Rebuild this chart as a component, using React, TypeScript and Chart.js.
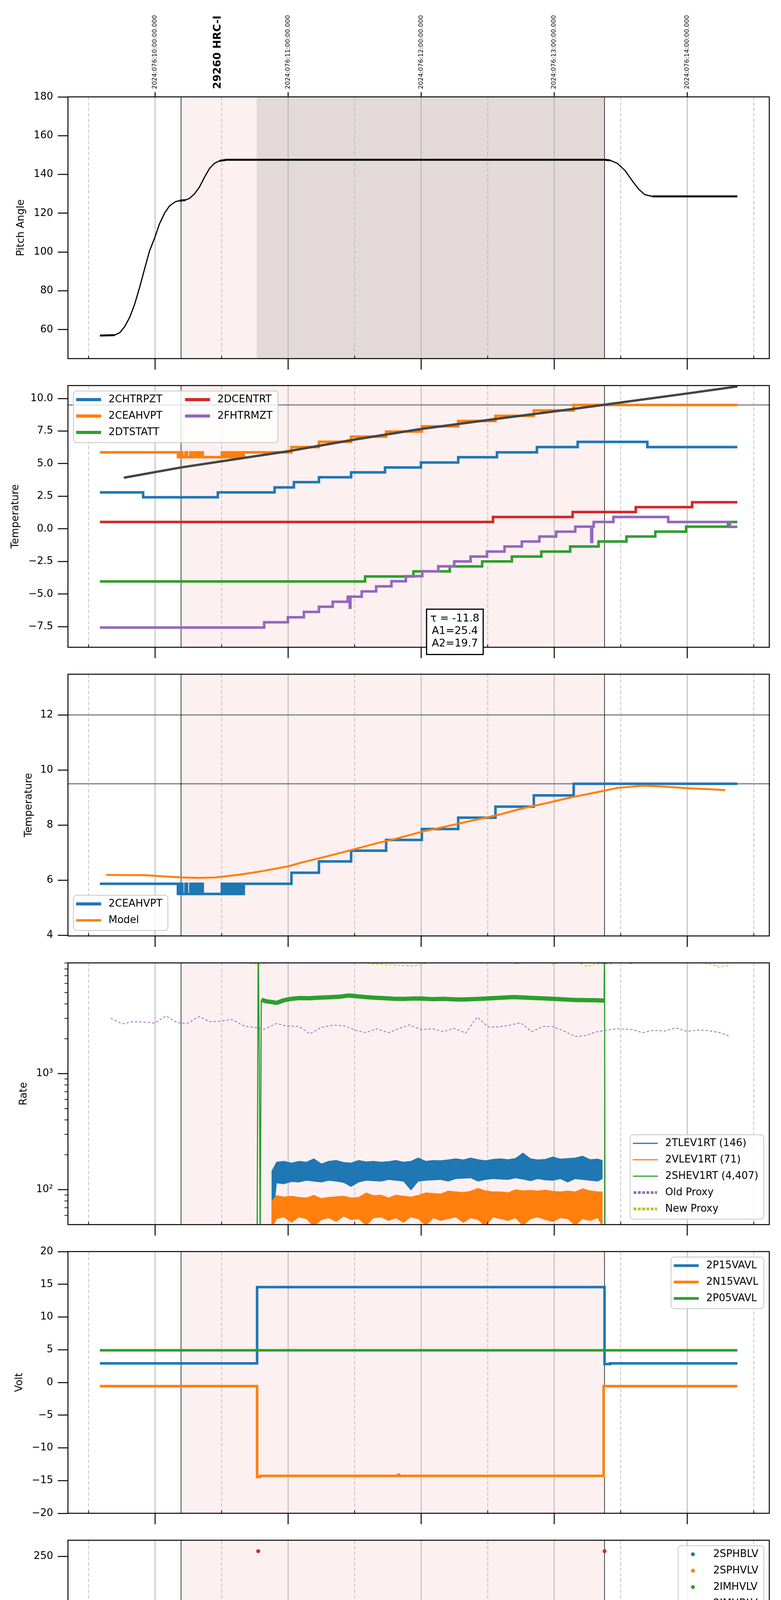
import { useEffect, useRef } from "react";
import Chart from "chart.js/auto";

type Pt = [number, number];

const FONT = '"DejaVu Sans", sans-serif';
const BLUE = "#1f77b4";
const ORANGE = "#ff7f0e";
const GREEN = "#2ca02c";
const RED = "#d62728";
const PURPLE = "#9467bd";
const OLIVE = "#bcbd22";

// time axis: minutes after local midnight, 2024-03-16 (076)
const X_MIN = 320.7;
const X_MAX = 637.0;
const hourTicks = [360, 420, 480, 540, 600];
const hourLabels = ["06h", "07h", "08h", "09h", "10h"];
const halfTicks = [330, 390, 450, 510, 570, 630];
const utcLabels = [
  "2024:076:10:00:00.000",
  "2024:076:11:00:00.000",
  "2024:076:12:00:00.000",
  "2024:076:13:00:00.000",
  "2024:076:14:00:00.000",
];
const obsWindow: Pt = [371.7, 562.7];
const hvOnWindow: Pt = [405.8, 562.7];
const obsName = "29260 HRC-I";
const obsNameAt = 388.3;
const xTitle = "2024-03-16 (076)";

// panel 1: pitch
const pitch: Pt[] = [
  [335.1, 57.0], [341.8, 57.2], [344.1, 58.5], [346.3, 61.6], [348.6, 66.5], [350.8, 73.2],
  [353.0, 81.7], [355.3, 91.5], [357.5, 100.6], [360.0, 107.9], [362.0, 114.6], [364.3, 120.1],
  [366.5, 123.8], [369.2, 126.0], [371.0, 126.5], [373.7, 126.8], [375.5, 127.7], [377.7, 129.9],
  [380.0, 133.5], [382.2, 138.4], [384.5, 143.0], [386.7, 145.7], [389.0, 147.0], [392.3, 147.6],
  [395.7, 147.6], [562.7, 147.6], [565.2, 147.3], [568.5, 145.7], [571.9, 142.1], [575.3, 136.6],
  [578.2, 132.3], [580.9, 129.6], [584.2, 128.7], [622.6, 128.7],
];

// panel 2 / 3 / 8: thermistors (step changes)
const chtrpzt: Pt[] = [
  [335.1, 2.80], [354.6, 2.42], [388.3, 2.80], [413.9, 3.18], [422.6, 3.58], [433.9, 3.96],
  [448.4, 4.33], [463.7, 4.71], [479.9, 5.09], [496.7, 5.49], [514.2, 5.87], [532.2, 6.27],
  [550.6, 6.67], [582.0, 6.27], [622.6, 6.27],
];
const ceahvpt: Pt[] = [
  [335.1, 5.87], [370.3, 5.50], [371.4, 5.87], [372.3, 5.50], [373.7, 5.87], [374.4, 5.50],
  [375.9, 5.87], [376.6, 5.50], [377.7, 5.87], [378.2, 5.50], [379.1, 5.87], [379.8, 5.50],
  [380.7, 5.87], [381.5, 5.50], [390.1, 5.87], [390.8, 5.50], [391.4, 5.87], [392.3, 5.50],
  [393.0, 5.87], [393.9, 5.50], [394.8, 5.87], [395.7, 5.50], [396.6, 5.87], [397.5, 5.50],
  [398.4, 5.87], [399.3, 5.50], [400.0, 5.87], [421.5, 6.27], [433.9, 6.68], [448.4, 7.07],
  [464.2, 7.46], [480.3, 7.86], [496.7, 8.27], [513.5, 8.67], [530.8, 9.08], [548.8, 9.50],
  [622.6, 9.50],
];
const dtstatt: Pt[] = [
  [335.1, -4.03], [454.7, -3.65], [476.5, -3.26], [492.9, -2.88], [507.5, -2.50], [520.9, -2.12],
  [534.2, -1.74], [547.2, -1.35], [560.0, -0.97], [572.6, -0.59], [585.6, -0.21], [599.5, 0.17],
  [618.4, 0.53], [622.6, 0.53],
];
const dcentrt: Pt[] = [
  [335.1, 0.53], [512.4, 0.91], [548.3, 1.29], [576.8, 1.67], [602.2, 2.04], [622.6, 2.04],
];
const fhtrmzt: Pt[] = [
  [335.1, -7.57], [409.2, -7.16], [419.9, -6.78], [427.1, -6.37], [433.9, -5.97], [440.1, -5.59],
  [446.9, -5.20], [447.8, -6.05], [448.1, -5.20], [453.2, -4.80], [459.7, -4.41], [466.6, -4.02],
  [473.1, -3.63], [480.5, -3.26], [487.7, -2.87], [494.9, -2.50], [502.3, -2.12], [509.7, -1.74],
  [517.6, -1.35], [525.4, -0.97], [533.3, -0.59], [540.9, -0.21], [549.5, 0.17], [556.7, -1.00],
  [557.1, 0.17], [557.8, 0.53], [566.7, 0.91], [591.4, 0.53], [619.3, 0.15], [622.6, 0.15],
];
const fitCurve: Pt[] = [
  [345.9, 3.92], [371.7, 4.71], [395.7, 5.33], [419.9, 5.95], [450.0, 6.85], [479.9, 7.66],
  [514.7, 8.45], [548.8, 9.20], [562.7, 9.52], [599.9, 10.38], [622.6, 10.92],
];
const fitNote = ["τ = -11.8", "A1=25.4", "A2=19.7"];
const fitNoteAt: Pt = [495.2, -6.16];

const model: Pt[] = [
  [338.0, 6.19], [355.3, 6.18], [365.4, 6.13], [372.1, 6.10], [380.0, 6.08], [387.2, 6.10],
  [397.9, 6.20], [406.9, 6.31], [419.9, 6.50], [426.0, 6.64], [437.2, 6.86], [447.3, 7.07],
  [458.5, 7.31], [469.8, 7.53], [479.9, 7.75], [492.2, 7.97], [503.4, 8.17], [514.7, 8.37],
  [525.9, 8.61], [537.1, 8.81], [548.3, 9.02], [559.6, 9.20], [568.5, 9.35], [579.8, 9.43],
  [588.7, 9.40], [599.9, 9.34], [608.9, 9.31], [617.2, 9.27],
];

// panel 4: rates (band envelopes share one time base)
const rateBandT = [
  412.5, 414.8, 418.1, 421.5, 424.9, 428.2, 431.6, 435.0, 438.3, 441.7, 445.1, 448.4, 451.8,
  455.2, 458.5, 461.9, 465.3, 468.6, 472.0, 475.4, 478.7, 482.1, 485.5, 488.8, 492.2, 495.6,
  499.0, 502.3, 505.7, 509.0, 512.4, 515.8, 519.2, 522.5, 525.9, 529.3, 532.6, 536.0, 539.4,
  542.7, 546.1, 549.5, 552.8, 556.2, 559.6, 561.8,
];
const tlevHi = [
  142.8, 172.8, 175.9, 170, 176, 172.8, 185, 167, 176, 179, 172, 170, 179, 174, 176, 173, 175,
  179, 173, 176, 188, 176, 179, 178, 181, 185, 181, 188, 182, 178, 183, 185, 182, 186, 207, 185,
  181, 183, 192, 184, 186, 188, 195, 182, 184, 179,
];
const tlevLo = [
  40, 114, 112, 117, 116, 120, 118, 116, 120, 118, 115, 106, 116, 120, 119, 118, 122, 120, 118,
  99, 118, 120, 121, 122, 118, 124, 125, 126, 118, 122, 124, 123, 122, 126, 123, 119, 124, 121,
  120, 124, 116, 124, 122, 120, 118, 124,
];
const vlevHi = [
  79, 89, 86.5, 88, 86, 85, 89.5, 84, 86, 87, 88, 85, 86, 94, 89, 90, 85, 90, 88, 86.5, 89.5, 94,
  93, 92, 97.6, 96, 95, 97, 102.8, 98, 96, 95.9, 94.3, 100, 98, 99, 97.6, 99.3, 97, 95.9, 97.6, 96,
  102, 98, 96, 95.9,
];
const vlevLo = [
  45, 56, 58, 52, 58, 56, 48, 55, 57, 53, 59, 55, 56, 49, 57, 58, 54, 57, 52, 58, 56, 49, 57, 54,
  56, 58, 52, 57, 55, 48, 58, 56, 54, 57, 49, 56, 58, 55, 53, 57, 56, 49, 56, 54, 57, 48,
];
const shev1rt: Pt[] = [
  [406.0, 30], [406.5, 15000], [407.0, 1500], [407.4, 30], [407.9, 4330], [410.3, 4200],
  [412.5, 4150], [414.8, 4080], [418.1, 4300], [421.5, 4420], [424.9, 4490], [429.4, 4470],
  [433.9, 4520], [438.3, 4560], [442.8, 4600], [447.3, 4720], [450.7, 4660], [454.1, 4590],
  [458.5, 4520], [463.0, 4480], [467.5, 4430], [472.0, 4410], [476.5, 4450], [481.0, 4440],
  [485.5, 4390], [490.0, 4420], [494.5, 4380], [498.9, 4360], [503.4, 4390], [507.9, 4430],
  [512.4, 4480], [516.9, 4520], [521.4, 4580], [525.9, 4540], [530.4, 4500], [534.9, 4460],
  [539.4, 4420], [543.9, 4380], [548.3, 4330], [552.8, 4310], [557.3, 4300], [561.8, 4280],
  [562.5, 4280], [562.7, 15000], [562.9, 30],
];
const oldProxy: Pt[] = [
  [340.0, 3007], [345.2, 2684], [349.7, 2806], [355.3, 2786], [359.8, 2729], [364.9, 3148],
  [369.9, 2757], [374.4, 2710], [380.0, 3112], [384.5, 2806], [389.0, 2826], [394.6, 2937],
  [400.2, 2573], [404.7, 2503], [409.2, 2418], [414.8, 2710], [419.3, 2573], [424.9, 2556],
  [429.8, 2203], [435.0, 2512], [440.6, 2627], [445.1, 2591], [450.7, 2360], [455.2, 2256],
  [459.7, 2443], [465.3, 2256], [469.8, 2443], [474.7, 2636], [479.9, 2400], [485.0, 2443],
  [490.0, 2304], [494.9, 2461], [500.1, 2240], [505.2, 3081], [510.2, 2529], [514.7, 2529],
  [519.2, 2600], [524.8, 2748], [529.9, 2304], [534.9, 2556], [539.4, 2547], [543.8, 2360],
  [549.5, 2091], [553.9, 2127], [558.4, 2281], [562.9, 2360], [568.5, 2443], [575.3, 2400],
  [579.8, 2256], [584.2, 2360], [589.9, 2335], [594.8, 2486], [599.9, 2317], [604.5, 2378],
  [608.9, 2360], [614.5, 2265], [619.5, 2091],
];
const newProxy: Pt[] = [
  [340.0, 10500], [346.3, 11500], [353.0, 10800], [359.8, 12000], [366.5, 11000], [373.2, 11800],
  [380.0, 10500], [386.7, 11200], [393.4, 10000], [400.2, 9300], [404.7, 8800], [407.4, 8650],
  [410.3, 9100], [415.9, 10200], [424.9, 11000], [433.9, 10300], [442.8, 9800], [451.8, 9300],
  [458.1, 8800], [463.0, 8750], [469.8, 8600], [475.4, 8500], [479.9, 8700], [485.5, 9400],
  [492.2, 10500], [501.2, 11000], [510.2, 9900], [516.9, 9500], [523.6, 8800], [528.1, 9600],
  [533.7, 9700], [539.4, 8750], [545.0, 9400], [550.6, 9100], [555.1, 8350], [558.4, 8800],
  [561.8, 8900], [565.2, 8750], [569.7, 9500], [574.2, 8850], [579.8, 9700], [586.6, 10100],
  [593.3, 9500], [600.1, 8900], [604.5, 9300], [611.2, 8700], [614.5, 8300], [619.5, 8600],
];
const rateMinorTicks = [60, 70, 80, 90, 200, 300, 400, 500, 600, 700, 800, 900, 2000, 3000, 4000, 5000, 6000, 7000, 8000, 9000];

// panel 5: voltages
const p15vavl: Pt[] = [[335.1, 2.91], [406.0, 14.57], [562.7, 2.80], [565.2, 2.91], [622.6, 2.91]];
const n15vavl: Pt[] = [
  [335.1, -0.57], [406.0, -14.45], [407.4, -14.29], [469.7, -14.10], [470.0, -14.29],
  [562.3, -0.57], [622.6, -0.57],
];
const p05vavl: Pt[] = [[335.1, 4.91], [622.6, 4.91]];

// panel 6: HV monitors (isolated samples + long runs at a constant reading)
const sphblv: Pt[] = [];
const sphvlv: Pt[] = [];
const imhvlvPts: Pt[] = [
  [409.0, 100.0], [409.5, 97.0], [410.0, 94.0], [410.6, 90.0], [411.0, 87.0], [411.5, 84.0],
  [412.0, 82.2], [455.2, 126.7], [456.3, 126.7], [459.0, 126.7], [460.1, 126.7], [461.9, 126.7],
  [488.8, 126.7], [491.1, 126.7], [494.5, 126.7],
];
const imhvlvRun: Pt[] = [[412.5, 79.2], [562.7, 79.2]];
const imhblvPts: Pt[] = [
  [406.5, 255.3], [408.9, 126.7], [408.95, 127.5], [409.2, 119.9], [409.4, 109.6], [409.6, 105.8],
  [410.1, 101.2], [410.5, 98.2], [411.0, 94.4], [411.6, 90.6], [412.2, 86.8], [455.6, 79.2],
  [456.3, 79.2], [459.7, 79.2], [460.8, 79.2], [461.9, 79.2], [463.0, 79.2], [488.8, 79.2],
  [491.1, 79.2], [494.5, 79.2], [562.7, 255.3],
];
const imhblvRun: Pt[] = [[412.5, 86.0], [562.7, 86.0]];

// panel 7: detector temps
const spinatm: Pt[] = [
  [407.4, 2.19], [441.0, 2.66], [456.3, -3], [460.1, 2.66], [462.6, -3], [467.5, 2.66],
  [488.6, -3], [494.9, 3.15], [531.5, 3.64], [562.2, 3.64],
];
const sphvatm: Pt[] = [
  [406.0, 13.43], [406.5, 14.00], [442.4, 14.34], [455.0, 8.62], [455.5, -3], [455.8, 8.62],
  [456.4, 14.5], [457.0, 8.62], [458.0, 14.5], [458.5, 8.62], [460.3, -3], [460.8, 8.62],
  [461.5, 14.5], [462.0, 8.62], [463.5, 14.5], [464.2, 8.62], [465.0, 14.52], [465.8, 8.9],
  [466.6, 14.52], [467.5, 14.63], [478.7, 15.00], [488.2, 9.29], [489.0, 15.00], [489.6, 9.55],
  [490.5, 15.00], [491.0, 9.55], [492.2, 15.00], [492.8, 9.55], [494.0, 15.00], [494.9, 15.32],
  [509.0, 15.66], [524.8, 16.00], [539.8, 16.35], [555.5, 16.70], [562.2, 16.70],
];
const iminatm: Pt[] = [
  [407.4, 0.35], [454.1, 0.81], [455.0, 2.75], [455.6, -3], [456.2, 2.75], [457.0, 0.81],
  [457.6, 2.75], [458.3, -3], [459.0, 2.75], [459.8, 0.81], [460.5, 2.75], [461.2, 0.81],
  [462.0, 2.75], [463.0, 0.81], [464.5, 2.75], [465.3, 0.81], [466.5, 2.75], [467.3, 0.81],
  [488.8, 3.22], [489.5, 0.81], [490.2, 3.22], [491.2, 0.81], [492.0, 3.22], [493.0, 0.81],
  [493.8, 3.22], [494.9, 0.81], [523.6, 1.28], [562.2, 1.28],
];
const imhvatm: Pt[] = [
  [406.5, -3], [407.0, 13.30], [418.8, 13.63], [425.1, 13.96], [431.2, 14.32], [437.9, 14.63],
  [445.1, 14.96], [453.4, 15.32], [455.0, 8.62], [455.8, 15.32], [456.5, 8.62], [457.0, 15.32],
  [459.5, 8.62], [460.2, 15.32], [460.8, 8.62], [461.6, 15.32], [462.4, 15.66], [472.5, 16.02],
  [483.7, 16.37], [488.2, 14.96], [488.9, 16.37], [489.5, 14.96], [490.3, 16.37], [490.9, 14.96],
  [492.0, 16.37], [492.6, 14.96], [493.5, 16.37], [494.0, 14.96], [494.9, 16.70], [506.8, 17.03],
  [518.0, 17.40], [531.9, 17.74], [545.6, 18.10], [559.6, 18.46], [562.2, 18.46], [562.4, 25],
  [562.7, -3],
];

// panel 8: FEA temps
const fradpyt: Pt[] = [
  [424.4, -9], [424.6, -7.99], [430.5, -7.58], [437.2, -7.17], [443.9, -6.78], [450.7, -6.38],
  [458.1, -5.98], [467.5, -5.59], [472.0, -5.20], [479.4, -4.80], [487.0, -4.41], [494.5, -4.03],
  [502.3, -3.66], [510.2, -3.27], [518.7, -2.90], [527.5, -2.50], [535.5, -2.12], [544.5, -1.75],
  [553.3, -1.36], [562.2, -0.99], [578.9, -1.36], [593.9, -1.75], [612.8, -2.12], [622.6, -2.12],
];
const fepratm: Pt[] = [
  [406.0, -9], [406.2, -7.70], [409.2, -7.30], [411.8, -6.86], [414.3, -6.43], [417.7, -6.00],
  [421.5, -5.61], [426.4, -5.19], [431.6, -4.79], [437.7, -4.35], [443.9, -3.93], [450.7, -3.50],
  [455.2, -6.09], [456.0, -3.50], [456.6, -6.09], [457.5, -3.50], [458.3, -6.09], [459.3, -3.50],
  [460.2, -6.09], [461.0, -3.50], [462.0, -6.09], [463.0, -3.50], [464.2, -6.09], [465.2, -3.50],
  [466.2, -6.09], [467.0, -3.50], [467.5, -2.70], [471.6, -2.27], [479.4, -1.83], [487.0, -1.36],
  [488.8, -6.09], [489.6, -1.36], [490.3, -6.09], [491.3, -1.36], [491.9, -6.09], [492.8, -1.36],
  [493.5, -6.09], [494.4, -1.36], [494.9, -0.96], [503.0, -0.53], [511.7, -0.08], [520.7, 0.36],
  [529.9, 0.82], [538.9, 1.27], [549.0, 1.73], [562.2, 1.73], [562.4, 3],
];
const fe00atm: Pt[] = [
  [410.7, -9], [410.8, -8.17], [417.5, -7.85], [422.2, -7.48], [427.1, -7.11], [431.8, -6.74],
  [436.8, -6.39], [441.9, -6.05], [443.5, -5.35], [443.8, -6.05], [447.3, -5.70], [450.7, -5.35],
  [455.0, 3], [455.3, -9], [455.6, 3], [456.0, -5.0], [456.4, 3], [456.8, -9], [457.2, 3],
  [457.6, -5.2], [458.0, 3], [458.6, -4.5], [459.2, 3], [459.6, -9], [460.0, 3], [460.6, -5.0],
  [461.2, 3], [461.8, -4.6], [462.4, 3], [463.2, -4.8], [464.0, 3], [464.8, -4.7], [465.6, 3],
  [466.4, -4.7], [467.0, 3], [467.6, -4.66], [472.5, -4.31], [479.4, -3.96], [484.4, -3.64],
  [487.7, 3], [488.2, -3.64], [488.7, 3], [489.3, -3.0], [489.8, 3], [490.5, -2.9], [491.0, 3],
  [491.7, -3.2], [492.2, 3], [492.9, -2.9], [493.5, 3], [494.1, -3.3], [494.8, 3], [495.6, -2.61],
  [501.2, -2.35], [507.5, -2.65], [507.8, -1.95], [513.2, -0.62], [513.6, -1.59], [519.2, -1.29],
  [520.6, -0.62], [521.0, -1.29], [526.3, -1.05], [532.6, -0.62], [539.8, -0.30], [546.1, 0.03],
  [552.8, 0.38], [559.6, 0.71], [562.2, 3], [562.5, -9],
];

// ---------- helpers ----------
const PANEL_H = 670;
const LW = 6.5;
const pts = (d: Pt[]) => d.map(([x, y]) => ({ x, y }));
const band = (vals: number[]) => rateBandT.map((t, i) => ({ x: t, y: vals[i] }));

const step = (label: string, data: Pt[], color: string, width = LW) => ({
  label, data: pts(data), borderColor: color, backgroundColor: color, borderWidth: width,
  stepped: true, pointRadius: 0, fill: false, borderJoinStyle: "miter", borderCapStyle: "butt",
});
const curve = (label: string, data: Pt[], color: string, width: number, dash?: number[]) => ({
  label, data: pts(data), borderColor: color, backgroundColor: color, borderWidth: width,
  pointRadius: 0, fill: false, borderDash: dash ?? [], borderJoinStyle: "round",
});
const dots = (label: string, data: Pt[], color: string) => ({
  label, data: pts(data), showLine: false, pointRadius: 5, pointBorderWidth: 0,
  pointBackgroundColor: color, borderColor: color, backgroundColor: color,
});

const fmt1 = (v: number) => v.toFixed(1).replace("-", "\u2212");
const fmt0 = (v: number) => String(v).replace("-", "\u2212");
const fmtLog = (v: number) => (v === 100 ? "10\u00b2" : v === 1000 ? "10\u00b3" : "");

function vline(ctx: any, x: number, y0: number, y1: number) {
  ctx.beginPath(); ctx.moveTo(x, y0); ctx.lineTo(x, y1); ctx.stroke();
}
function hline(ctx: any, y: number, x0: number, x1: number) {
  ctx.beginPath(); ctx.moveTo(x0, y); ctx.lineTo(x1, y); ctx.stroke();
}

function drawLegend(ctx: any, a: any, lg: any) {
  const cols = lg.cols ?? 1;
  const rows = Math.ceil(lg.items.length / cols);
  ctx.font = `26px ${FONT}`;
  const colW: number[] = [];
  for (let c = 0; c < cols; c++) {
    const its = lg.items.slice(c * rows, (c + 1) * rows);
    colW.push(90 + Math.max(...its.map((i: any) => ctx.measureText(i.label).width)));
  }
  const w = colW.reduce((s, v) => s + v, 0) + (cols - 1) * 51 + 14;
  const h = 22 + (rows - 1) * 42 + 26;
  const left = lg.corner.includes("l") ? a.left + 14 : a.right - 14 - w;
  const top = lg.corner[0] === "t" ? a.top + 14 : a.bottom - 14 - h;
  ctx.beginPath();
  ctx.roundRect(left, top, w, h, 8);
  ctx.fillStyle = "rgba(255,255,255,0.8)";
  ctx.fill();
  ctx.strokeStyle = "#d0d0d0";
  ctx.lineWidth = 2.5;
  ctx.stroke();
  let cx = left;
  for (let c = 0; c < cols; c++) {
    lg.items.slice(c * rows, (c + 1) * rows).forEach((it: any, r: number) => {
      const yy = top + 22 + r * 42;
      ctx.strokeStyle = it.color;
      ctx.fillStyle = it.color;
      if (it.kind === "dot") {
        ctx.beginPath(); ctx.arc(cx + 38, yy, 5, 0, Math.PI * 2); ctx.fill();
      } else {
        ctx.setLineDash(it.kind === "dash" ? [7, 4] : []);
        ctx.lineWidth = it.width ?? 7;
        ctx.lineCap = "butt";
        hline(ctx, yy, cx + (it.kind === "dash" ? 9 : 7), cx + (it.kind === "dash" ? 69 : 71));
        ctx.setLineDash([]);
      }
      ctx.fillStyle = "#000";
      ctx.textAlign = "left";
      ctx.textBaseline = "middle";
      ctx.fillText(it.label, cx + 90, yy);
    });
    cx += colW[c] + 51;
  }
}

const decorPlugin = {
  id: "decor",
  beforeDatasetsDraw(chart: any, _args: any, o: any) {
    const { ctx, chartArea: a } = chart;
    const xs = chart.scales.x;
    const ys = chart.scales.y;
    const px = (t: number) => xs.getPixelForValue(t);
    ctx.save();
    ctx.beginPath();
    ctx.rect(a.left, a.top, a.right - a.left, a.bottom - a.top);
    ctx.clip();
    ctx.fillStyle = "#fdf0f0";
    ctx.fillRect(px(obsWindow[0]), a.top, px(obsWindow[1]) - px(obsWindow[0]), a.bottom - a.top);
    if (o.hvShade) {
      ctx.fillStyle = "#e4d9d9";
      ctx.fillRect(px(hvOnWindow[0]), a.top, px(hvOnWindow[1]) - px(hvOnWindow[0]), a.bottom - a.top);
    }
    ctx.strokeStyle = "#b0b0b0";
    ctx.lineWidth = 2;
    for (const t of hourTicks) vline(ctx, px(t), a.top, a.bottom);
    ctx.setLineDash([9, 5]);
    ctx.lineWidth = 1.5;
    for (const t of halfTicks) vline(ctx, px(t), a.top, a.bottom);
    ctx.setLineDash([]);
    ctx.strokeStyle = "#808080";
    ctx.lineWidth = 3;
    for (const v of o.hlines ?? []) hline(ctx, ys.getPixelForValue(v), a.left, a.right);
    ctx.strokeStyle = "#000";
    ctx.lineWidth = 1.5;
    for (const t of obsWindow) vline(ctx, px(t), a.top, a.bottom);
    ctx.restore();
  },
  afterDatasetsDraw(chart: any, _args: any, o: any) {
    const { ctx, chartArea: a } = chart;
    const xs = chart.scales.x;
    const ys = chart.scales.y;
    const px = (t: number) => xs.getPixelForValue(t);
    ctx.save();
    ctx.strokeStyle = "#000";
    ctx.lineWidth = 2.5;
    ctx.strokeRect(a.left, a.top, a.right - a.left, a.bottom - a.top);
    for (const t of hourTicks) vline(ctx, px(t), a.bottom, a.bottom + 28);
    ctx.lineWidth = 2;
    for (const t of halfTicks) vline(ctx, px(t), a.bottom - 7, a.bottom);
    if (o.minorY) {
      ctx.lineWidth = 1.8;
      for (const v of o.minorY) hline(ctx, ys.getPixelForValue(v), a.left - 9, a.left);
    }
    if (o.topLabels) {
      ctx.lineWidth = 2.5;
      ctx.fillStyle = "#000";
      ctx.textAlign = "left";
      ctx.textBaseline = "middle";
      hourTicks.forEach((t, i) => {
        vline(ctx, px(t), a.top - 12, a.top);
        ctx.save();
        ctx.translate(px(t), a.top - 20);
        ctx.rotate(-Math.PI / 2);
        ctx.font = `16px ${FONT}`;
        ctx.fillText(utcLabels[i], 0, 0);
        ctx.restore();
      });
      ctx.save();
      ctx.translate(px(obsNameAt), a.top - 20);
      ctx.rotate(-Math.PI / 2);
      ctx.font = `bold 27px ${FONT}`;
      ctx.fillText(obsName, 0, 0);
      ctx.restore();
    }
    if (o.note) {
      const cx = px(fitNoteAt[0]);
      const top = ys.getPixelForValue(fitNoteAt[1]);
      const w = 145;
      const h = 116;
      ctx.fillStyle = "#fff";
      ctx.fillRect(cx - w / 2, top, w, h);
      ctx.strokeStyle = "#000";
      ctx.lineWidth = 3;
      ctx.strokeRect(cx - w / 2, top, w, h);
      ctx.fillStyle = "#000";
      ctx.font = `27px ${FONT}`;
      ctx.textAlign = "center";
      ctx.textBaseline = "middle";
      fitNote.forEach((s, i) => ctx.fillText(s, cx, top + 24 + i * 32));
    }
    if (o.legend) drawLegend(ctx, a, o.legend);
    if (o.bottomLabels) {
      ctx.fillStyle = "#000";
      ctx.textAlign = "center";
      ctx.textBaseline = "middle";
      ctx.font = `18px ${FONT}`;
      for (const t of halfTicks) ctx.fillText("30", px(t), a.bottom + 15);
      ctx.font = `26px ${FONT}`;
      hourTicks.forEach((t, i) => ctx.fillText(hourLabels[i], px(t), a.bottom + 49));
      ctx.font = `32px ${FONT}`;
      ctx.fillText(xTitle, (a.left + a.right) / 2, a.bottom + 87);
    }
    ctx.restore();
  },
};
Chart.register(decorPlugin);

// ---------- panels ----------
const panels: any[] = [
  {
    top: 248, padTop: 248, padBottom: 35, yMin: 45.1, yMax: 180,
    yTicks: [60, 80, 100, 120, 140, 160, 180], yFmt: fmt0, yTitle: "Pitch Angle", titlePad: 39,
    datasets: [{
      ...curve("Pitch", pitch, "#000", 3),
      segment: {
        borderWidth: (c: any) => (Math.abs(c.p1.y - c.p0.y) < 0.15 * Math.abs(c.p1.x - c.p0.x) + 0.5 ? 5 : 3),
      },
    }],
    decor: { hvShade: true, topLabels: true },
  },
  {
    top: 987, padTop: 34, padBottom: 35, yMin: -9.08, yMax: 10.99,
    yTicks: [-7.5, -5, -2.5, 0, 2.5, 5, 7.5, 10], yFmt: fmt1, yTitle: "Temperature", titlePad: 25,
    datasets: [
      step("2CHTRPZT", chtrpzt, BLUE),
      step("2CEAHVPT", ceahvpt, ORANGE),
      step("2DTSTATT", dtstatt, GREEN),
      step("2DCENTRT", dcentrt, RED),
      step("2FHTRMZT", fhtrmzt, PURPLE),
      curve("fit", fitCurve, "#444444", 6),
    ],
    decor: {
      hlines: [9.5], note: true,
      legend: {
        corner: "tl", cols: 2,
        items: [
          { label: "2CHTRPZT", color: BLUE, kind: "line", width: 8 },
          { label: "2CEAHVPT", color: ORANGE, kind: "line", width: 8 },
          { label: "2DTSTATT", color: GREEN, kind: "line", width: 8 },
          { label: "2DCENTRT", color: RED, kind: "line", width: 8 },
          { label: "2FHTRMZT", color: PURPLE, kind: "line", width: 8 },
        ],
      },
    },
  },
  {
    top: 1726, padTop: 34, padBottom: 35, yMin: 3.975, yMax: 13.48,
    yTicks: [4, 6, 8, 10, 12], yFmt: fmt0, yTitle: "Temperature", titlePad: 59,
    datasets: [step("2CEAHVPT", ceahvpt, BLUE), curve("Model", model, ORANGE, 5)],
    decor: {
      hlines: [12, 9.5],
      legend: {
        corner: "bl",
        items: [
          { label: "2CEAHVPT", color: BLUE, kind: "line", width: 8 },
          { label: "Model", color: ORANGE, kind: "line", width: 6 },
        ],
      },
    },
  },
  {
    top: 2465, padTop: 34, padBottom: 35, yType: "logarithmic", yMin: 50, yMax: 9020,
    yTicks: [100, 1000], yFmt: fmtLog, yTitle: "Rate", titlePad: 46,
    datasets: [
      { label: "tlevLo", data: band(tlevLo), borderColor: BLUE, borderWidth: 1, pointRadius: 0, fill: false },
      { label: "2TLEV1RT (146)", data: band(tlevHi), borderColor: BLUE, backgroundColor: BLUE, borderWidth: 1.5, pointRadius: 0, fill: "-1" },
      { label: "vlevLo", data: band(vlevLo), borderColor: ORANGE, borderWidth: 1, pointRadius: 0, fill: false },
      { label: "2VLEV1RT (71)", data: band(vlevHi), borderColor: ORANGE, backgroundColor: ORANGE, borderWidth: 1.5, pointRadius: 0, fill: "-1" },
      {
        ...curve("2SHEV1RT (4,407)", shev1rt, GREEN, 11),
        segment: { borderWidth: (c: any) => (Math.abs(c.p1.x - c.p0.x) < 3 ? 3 : 11) },
      },
      curve("Old Proxy", oldProxy, PURPLE, 2, [6, 5]),
      curve("New Proxy", newProxy, OLIVE, 2, [6, 5]),
    ],
    decor: {
      minorY: rateMinorTicks,
      legend: {
        corner: "br",
        items: [
          { label: "2TLEV1RT (146)", color: BLUE, kind: "line", width: 3 },
          { label: "2VLEV1RT (71)", color: ORANGE, kind: "line", width: 3 },
          { label: "2SHEV1RT (4,407)", color: GREEN, kind: "line", width: 3 },
          { label: "Old Proxy", color: PURPLE, kind: "dash" },
          { label: "New Proxy", color: OLIVE, kind: "dash" },
        ],
      },
    },
  },
  {
    top: 3204, padTop: 34, padBottom: 35, yMin: -20, yMax: 20,
    yTicks: [-20, -15, -10, -5, 0, 5, 10, 15, 20], yFmt: fmt0, yTitle: "Volt", titlePad: 35,
    datasets: [
      step("2P15VAVL", p15vavl, BLUE),
      step("2N15VAVL", n15vavl, ORANGE),
      step("2P05VAVL", p05vavl, GREEN),
    ],
    decor: {
      legend: {
        corner: "tr",
        items: [
          { label: "2P15VAVL", color: BLUE, kind: "line", width: 7 },
          { label: "2N15VAVL", color: ORANGE, kind: "line", width: 7 },
          { label: "2P05VAVL", color: GREEN, kind: "line", width: 7 },
        ],
      },
    },
  },
  {
    top: 3943, padTop: 34, padBottom: 35, yMin: 0, yMax: 266.4,
    yTicks: [0, 50, 100, 150, 200, 250], yFmt: fmt0, yTitle: "HV Monitor", titlePad: 39,
    datasets: [
      dots("2SPHBLV", sphblv, BLUE),
      dots("2SPHVLV", sphvlv, ORANGE),
      { ...curve("2IMHVLV run", imhvlvRun, GREEN, 10), borderCapStyle: "round" },
      dots("2IMHVLV", imhvlvPts, GREEN),
      { ...curve("2IMHBLV run", imhblvRun, RED, 10), borderCapStyle: "round" },
      dots("2IMHBLV", imhblvPts, RED),
    ],
    decor: {
      legend: {
        corner: "tr",
        items: [
          { label: "2SPHBLV", color: BLUE, kind: "dot" },
          { label: "2SPHVLV", color: ORANGE, kind: "dot" },
          { label: "2IMHVLV", color: GREEN, kind: "dot" },
          { label: "2IMHBLV", color: RED, kind: "dot" },
        ],
      },
    },
  },
  {
    top: 4682, padTop: 34, padBottom: 35, yMin: -1.16, yMax: 18.88,
    yTicks: [0, 2.5, 5, 7.5, 10, 12.5, 15, 17.5], yFmt: fmt1, yTitle: "Detector Temp", titlePad: 30,
    datasets: [
      step("2SPINATM", spinatm, BLUE),
      step("2SPHVATM", sphvatm, ORANGE),
      step("2IMINATM", iminatm, GREEN),
      step("2IMHVATM", imhvatm, RED),
    ],
    decor: {
      legend: {
        corner: "tr",
        items: [
          { label: "2SPINATM", color: BLUE, kind: "line", width: 8 },
          { label: "2SPHVATM", color: ORANGE, kind: "line", width: 8 },
          { label: "2IMINATM", color: GREEN, kind: "line", width: 8 },
          { label: "2IMHVATM", color: RED, kind: "line", width: 8 },
        ],
      },
    },
  },
  {
    top: 5421, padTop: 34, padBottom: 109, yMin: -8.29, yMax: 1.85,
    yTicks: [-8, -6, -4, -2, 0], yFmt: fmt0, yTitle: "FEA Temp", titlePad: 52,
    datasets: [
      step("2FHTRMZT", fhtrmzt, BLUE),
      step("2FRADPYT", fradpyt, ORANGE),
      step("2FEPRATM", fepratm, GREEN),
      step("2FE00ATM", fe00atm, RED),
    ],
    decor: {
      bottomLabels: true,
      legend: {
        corner: "tl",
        items: [
          { label: "2FHTRMZT", color: BLUE, kind: "line", width: 8 },
          { label: "2FRADPYT", color: ORANGE, kind: "line", width: 8 },
          { label: "2FEPRATM", color: GREEN, kind: "line", width: 8 },
          { label: "2FE00ATM", color: RED, kind: "line", width: 8 },
        ],
      },
    },
  },
];

function buildConfig(p: any): any {
  const n = p.datasets.length;
  return {
    type: "line",
    data: { datasets: p.datasets.map((d: any, i: number) => ({ ...d, order: n - i })) },
    options: {
      animation: false,
      responsive: true,
      maintainAspectRatio: false,
      events: [],
      layout: { autoPadding: false, padding: { left: 0, right: 30, top: p.padTop, bottom: p.padBottom } },
      plugins: { legend: { display: false }, tooltip: { enabled: false }, decor: p.decor },
      scales: {
        x: { type: "linear", min: X_MIN, max: X_MAX, display: false },
        y: {
          type: p.yType ?? "linear",
          min: p.yMin,
          max: p.yMax,
          afterFit: (s: any) => { s.width = 174; },
          afterBuildTicks: (s: any) => { s.ticks = p.yTicks.map((v: number) => ({ value: v })); },
          ticks: { callback: (v: number) => p.yFmt(v), font: { family: FONT, size: 26 }, color: "#000", padding: 12, autoSkip: false },
          grid: { drawOnChartArea: false, drawTicks: true, tickLength: 26, tickWidth: 2.5, tickColor: "#000" },
          border: { display: false },
          title: { display: true, text: p.yTitle, font: { family: FONT, size: 26 }, color: "#000", padding: { top: p.titlePad, bottom: 0 } },
        },
      },
    },
  };
}

function Panel({ spec }: { spec: any }) {
  const canvasRef = useRef<HTMLCanvasElement>(null);
  useEffect(() => {
    if (!canvasRef.current) return;
    const chart = new Chart(canvasRef.current, buildConfig(spec));
    return () => chart.destroy();
  }, [spec]);
  return (
    <div
      style={{
        position: "absolute",
        left: 0,
        top: spec.top - spec.padTop,
        width: 2000,
        height: spec.padTop + PANEL_H + spec.padBottom,
      }}
    >
      <canvas ref={canvasRef} />
    </div>
  );
}

export default function App() {
  Chart.defaults.font.family = FONT;
  return (
    <div style={{ position: "absolute", left: 0, top: 0, width: 2000, height: 6200, background: "#fff" }}>
      {panels.map((p, i) => (
        <Panel key={i} spec={p} />
      ))}
    </div>
  );
}
